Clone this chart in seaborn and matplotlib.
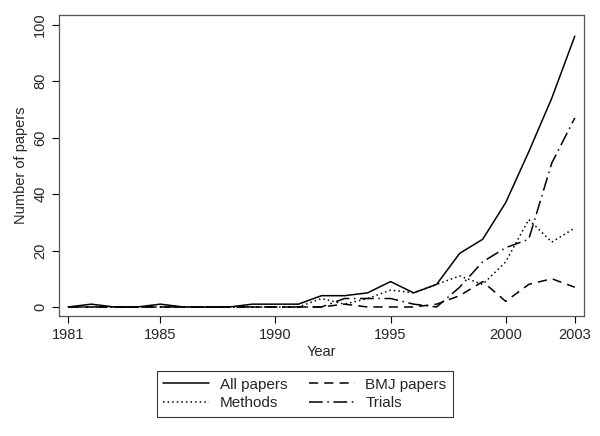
import numpy as np
import pandas as pd
import seaborn as sns
import matplotlib
matplotlib.use("Agg")
import matplotlib.pyplot as plt

years = list(range(1981, 2004))
all_papers = [0, 1, 0, 0, 1, 0, 0, 0, 1, 1, 1, 4, 4, 5, 9, 5, 8, 19, 24, 37, 55, 74, 96]
bmj_papers = [0, 0, 0, 0, 0, 0, 0, 0, 0, 0, 0, 0, 1, 0, 0, 0, 1, 4, 9, 2, 8, 10, 7]
methods = [0, 0, 0, 0, 0, 0, 0, 0, 0, 0, 0, 3, 1, 3, 6, 5, 8, 11, 8, 16, 31, 23, 28]
trials = [0, 0, 0, 0, 0, 0, 0, 0, 0, 0, 0, 0, 3, 3, 3, 1, 0, 7, 16, 21, 24, 51, 67]

sns.set_style("ticks")
plt.rcParams['font.family'] = ['Liberation Sans', 'DejaVu Sans']

df = pd.DataFrame({'Year': years, 'All papers': all_papers, 'BMJ papers': bmj_papers,
                   'Methods': methods, 'Trials': trials})

fig = plt.figure(figsize=(6, 4.36), dpi=100)
ax = fig.add_axes([59/600, 1 - 316/436, (584-59)/600, (316-15)/436])

styles = {
    'All papers': '-',
    'BMJ papers': (0, (6, 4)),
    'Methods': (0, (1, 2)),
    'Trials': (0, (9, 3, 1, 3)),
}
for name in ['All papers', 'BMJ papers', 'Methods', 'Trials']:
    sns.lineplot(data=df, x='Year', y=name, ax=ax, color='black', lw=1.1,
                 linestyle=styles[name], label=name, legend=False)

ax.set_xlim(1980.6, 2003.4)
ax.set_ylim(-3.2, 103.5)
ax.set_xticks([1981, 1985, 1990, 1995, 2000, 2003])
ax.set_yticks([0, 20, 40, 60, 80, 100])
ax.tick_params(axis='both', labelsize=10.5, length=5, color='black', direction='out')
for lab in ax.get_yticklabels():
    lab.set_rotation(90)
    lab.set_va('center')
ax.set_xlabel('Year', fontsize=10.5, labelpad=2)
ax.set_ylabel('Number of papers', fontsize=10.5, labelpad=4)
for s in ax.spines.values():
    s.set_visible(True)
    s.set_color('#555555')
    s.set_linewidth(0.9)

handles, labels = ax.get_legend_handles_labels()
order = [0, 2, 1, 3]
leg = fig.legend([handles[i] for i in order], [labels[i] for i in order],
                 loc='upper center', bbox_to_anchor=(305/600, 1 - 363/436), ncol=2,
                 frameon=True, fancybox=False, edgecolor='black', fontsize=11,
                 handlelength=3.0, handletextpad=0.7, columnspacing=1.4,
                 borderpad=0.45, labelspacing=0.3)
leg.get_frame().set_linewidth(0.8)

fig.savefig('out.png', dpi=100)
